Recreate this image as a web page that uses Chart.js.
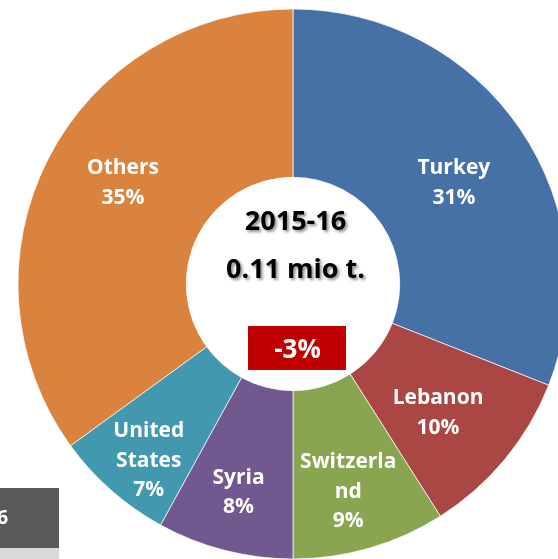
<!DOCTYPE html>
<html>
<head>
<meta charset="utf-8">
<script src="https://cdn.jsdelivr.net/npm/chart.js@4"></script>
<style>
  html, body { margin:0; padding:0; background:#fff; overflow:hidden; width:558px; height:559px; }
  #wrap { position:absolute; left:0; top:0; width:586px; height:568px; }
</style>
</head>
<body>
<div id="wrap"><canvas id="c"></canvas></div>
<script>
// ---- data ----
const categories = ['Turkey', 'Lebanon', 'Switzerland', 'Syria', 'United States', 'Others'];
const shares = [31, 10, 9, 8, 7, 35];
const labelLines = [['Turkey'], ['Lebanon'], ['Switzerla', 'nd'], ['Syria'], ['United', 'States'], ['Others']];
const seasonLabel = '2015-16';
const totalLabel = '0.11 mio t.';
const changeLabel = '-3%';
const pageNumber = '6';

// ---- style ----
const colors = ['#4571a7', '#aa4744', '#8aa550', '#71588f', '#4298af', '#da833e'];
const labelNudge = [[3, 5], [-2, 6], [2, 23], [-7, 22], [-18, 32], [0, -16]];
const FONT = '"Open Sans"';

const labelPlugin = {
  id: 'sliceLabels',
  afterDatasetsDraw(chart) {
    const ctx = chart.ctx;
    const meta = chart.getDatasetMeta(0);
    ctx.save();
    ctx.font = 'bold 21px ' + FONT;
    ctx.fillStyle = '#ffffff';
    ctx.textAlign = 'center';
    ctx.textBaseline = 'alphabetic';
    const lh = 29.5, cap = 15;
    meta.data.forEach((arc, i) => {
      const p = arc.getProps(['x', 'y', 'startAngle', 'endAngle', 'innerRadius', 'outerRadius'], true);
      const mid = (p.startAngle + p.endAngle) / 2;
      const r = (p.innerRadius + p.outerRadius) / 2;
      const cx = p.x + Math.cos(mid) * r + labelNudge[i][0];
      const cy = p.y + Math.sin(mid) * r + labelNudge[i][1];
      const lines = labelLines[i].concat([shares[i] + '%']);
      const n = lines.length;
      const first = cy - (n - 1) * lh / 2 + cap / 2;
      lines.forEach((t, k) => ctx.fillText(t, cx, first + k * lh));
    });
    ctx.restore();
  },
  afterDraw(chart) {
    const ctx = chart.ctx;
    const meta = chart.getDatasetMeta(0);
    const a = meta.data[0];
    const cx = a.x, cy = a.y;
    ctx.save();
    ctx.textAlign = 'center';
    ctx.textBaseline = 'alphabetic';
    ctx.shadowColor = 'rgba(0,0,0,0.45)';
    ctx.shadowOffsetX = 2;
    ctx.shadowOffsetY = 2;
    ctx.shadowBlur = 3;
    ctx.fillStyle = '#000';
    ctx.font = 'bold 27px ' + FONT;
    ctx.fillText(seasonLabel, cx + 2.5, cy - 54);
    ctx.fillText(totalLabel, cx + 2.5, cy - 6);
    ctx.restore();

    ctx.save();
    ctx.fillStyle = '#c00000';
    ctx.fillRect(cx - 45, cy + 42, 98, 44);
    ctx.fillStyle = '#fff';
    ctx.font = 'bold 26px ' + FONT;
    ctx.textAlign = 'center';
    ctx.textBaseline = 'alphabetic';
    ctx.fillText(changeLabel, cx + 4.5, cy + 74);
    ctx.restore();

    // slide page marker, bottom left
    ctx.save();
    ctx.fillStyle = '#595959';
    ctx.fillRect(0, 488, 59, 60);
    ctx.fillStyle = '#d9d9d9';
    ctx.fillRect(0, 548, 59, 20);
    ctx.fillStyle = '#fff';
    ctx.font = 'bold 19px ' + FONT;
    ctx.textAlign = 'right';
    ctx.textBaseline = 'alphabetic';
    ctx.fillText(pageNumber, 8, 524);
    ctx.restore();
  }
};

new Chart(document.getElementById('c'), {
  type: 'doughnut',
  data: {
    labels: categories,
    datasets: [{
      data: shares,
      backgroundColor: colors,
      borderColor: 'rgba(255,255,255,0.7)',
      borderWidth: 1,
      radius: 275,
      cutout: 110
    }]
  },
  options: {
    responsive: true,
    maintainAspectRatio: false,
    animation: false,
    layout: { padding: 0 },
    plugins: { legend: { display: false }, tooltip: { enabled: false } }
  },
  plugins: [labelPlugin]
});
</script>
</body>
</html>
